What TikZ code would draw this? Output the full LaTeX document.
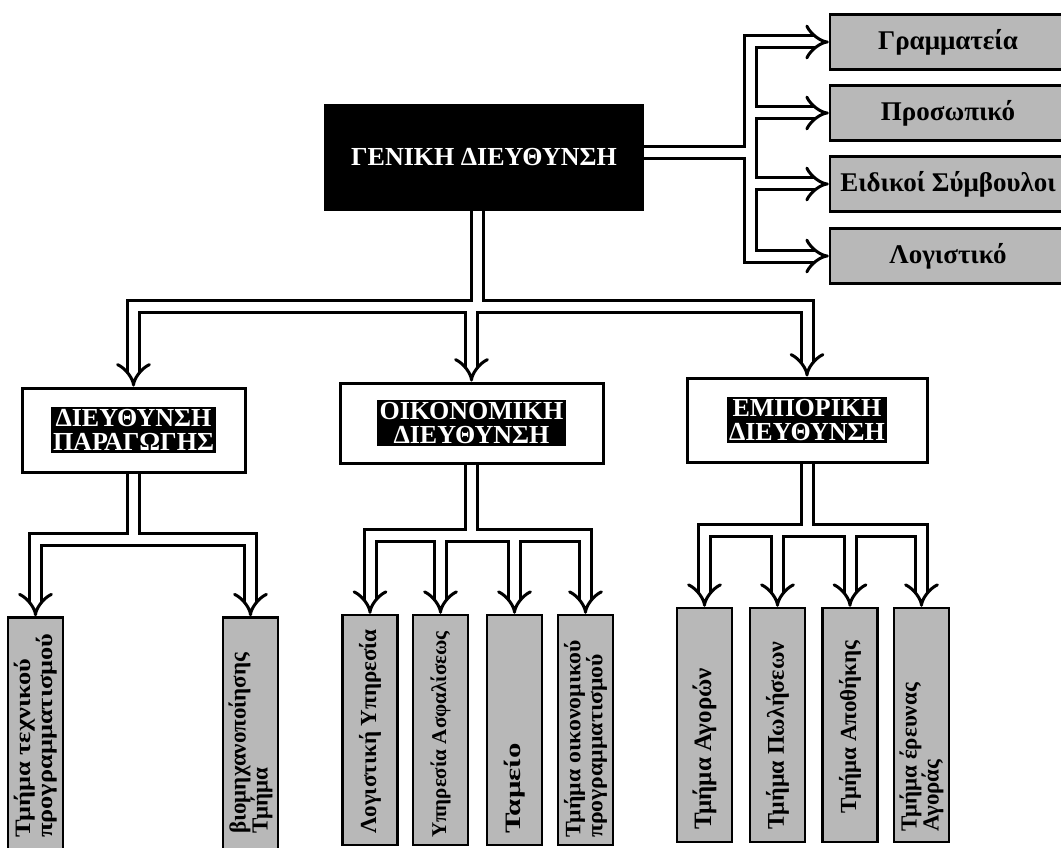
\documentclass[tikz,border=0pt]{standalone}
\usepackage{fontspec}
\setmainfont{Liberation Serif}
\usetikzlibrary{arrows.meta,calc}
\begin{document}
\begin{tikzpicture}[x=1pt,y=-1pt,
  conn/.style={draw=black, double=white, double distance=9pt, line width=3pt, line join=miter},
  tip/.style={conn, -{Implies}},
  headbox/.style={draw=black, fill=black, line width=2pt, text=white,
    font=\bfseries\fontsize{26}{28}\selectfont, minimum width=318pt, minimum height=105pt, inner sep=0pt},
  staffbox/.style={draw=black, fill=black!28, line width=2.5pt, minimum width=236pt,
    minimum height=55pt, font=\bfseries\fontsize{27}{27}\selectfont, inner sep=0pt},
  deptbox/.style={draw=black, fill=white, line width=3pt, inner sep=0pt},
  depttext/.style={fill=black, text=white, align=center,
    font=\bfseries\fontsize{26}{24}\selectfont, inner sep=2.5pt},
  unitbox/.style={draw=black, fill=black!28, line width=2.5pt, minimum width=55pt, inner sep=0pt},
  unittext/.style={rotate=90, anchor=west, align=left,
    font=\bfseries\fontsize{23}{22}\selectfont, inner sep=0pt},
  widetext/.style={unittext, font=\bfseries\fontsize{22}{22}\selectfont\addfontfeature{FakeStretch=#1}}
]
\useasboundingbox (0,0) rectangle (1061,848);

% general management and staff units
\node[headbox] (gd) at (484,157.5) {ΓΕΝΙΚΗ ΔΙΕΥΘΥΝΣΗ};
\node[staffbox] (r1) at (948,42) {Γραμματεία};
\node[staffbox] (r2) at (948,113) {Προσωπικό};
\node[staffbox] (r3) at (948,184) {Ειδικοί Σύμβουλοι};
\node[staffbox] (r4) at (948,256) {Λογιστικό};

% departments
\node[deptbox, minimum width=223pt, minimum height=84pt] (dp) at (133.5,430) {};
\node[depttext] (dpt) at (dp.center) {ΔΙΕΥΘΥΝΣΗ\\ΠΑΡΑΓΩΓΗΣ};
\node[deptbox, minimum width=263pt, minimum height=80pt] (od) at (471.5,423) {};
\node[depttext] (odt) at (od.center) {ΟΙΚΟΝΟΜΙΚΗ\\ΔΙΕΥΘΥΝΣΗ};
\node[deptbox, minimum width=240pt, minimum height=84pt] (ed) at (807,420) {};
\node[depttext] (edt) at (ed.center) {ΕΜΠΟΡΙΚΗ\\ΔΙΕΥΘΥΝΣΗ};

% sections
\node[unitbox, minimum height=245pt] (p1) at (35.5,740) {};
\node[unitbox, minimum height=245pt] (p2) at (250.5,740) {};
\node[unitbox, minimum height=230pt] (e1) at (370,730) {};
\node[unitbox, minimum height=230pt] (e2) at (440.5,730) {};
\node[unitbox, minimum height=230pt] (e3) at (514.5,730) {};
\node[unitbox, minimum height=230pt] (e4) at (585.5,730) {};
\node[unitbox, minimum height=234pt] (c1) at (704.5,725) {};
\node[unitbox, minimum height=234pt] (c2) at (777.5,725) {};
\node[unitbox, minimum height=234pt] (c3) at (850,725) {};
\node[unitbox, minimum height=234pt] (c4) at (921.5,725) {};

\node[widetext=1.2] (p1t) at (35.5,838) {Τμήμα τεχνικού\\προγραμματισμού};
\node[unittext] (p2t) at (250.5,834) {βιομηχανοποίησης\\Τμήμα};
\node[unittext] (e1t) at (370,834) {Λογιστική Υπηρεσία};
\node[unittext, font=\bfseries\fontsize{21}{21}\selectfont] (e2t) at (440.5,838) {Υπηρεσία Ασφαλίσεως};
\node[widetext=1.4] (e3t) at (514.5,834) {Ταμείο};
\node[widetext=1.08] (e4t) at (585.5,838) {Τμήμα οικονομικού\\προγραμματισμού};
\node[unittext, font=\bfseries\fontsize{25}{25}\selectfont] (c1t) at (704.5,830) {Τμήμα Αγορών};
\node[unittext, font=\bfseries\fontsize{24}{24}\selectfont] (c2t) at (777.5,830) {Τμήμα Πωλήσεων};
\node[unittext] (c3t) at (850,814) {Τμήμα Αποθήκης};
\node[unittext] (c4t) at (921.5,832) {Τμήμα έρευνας\\Αγοράς};

% bus levels and connector end points
\coordinate (sbus) at (750,0);
\coordinate (mbus) at (0,306);
\coordinate (pbus) at (0,539);
\coordinate (ebus) at (0,535);
\coordinate (cbus) at (0,530);
\coordinate (gde) at ($(gd.east)+(0,-5)$);
\coordinate (gds) at ($(gd.south)+(-7,0)$);

% staff connectors
\draw[conn] (gde) -- (gde -| sbus)
  ($(r1.west)+(-25,0)$) -- (r1.west -| sbus) -- (r4.west -| sbus) -- ($(r4.west)+(-25,0)$)
  (r2.west -| sbus) -- ($(r2.west)+(-25,0)$)
  (r3.west -| sbus) -- ($(r3.west)+(-25,0)$);
\foreach \n in {r1,r2,r3,r4}
  \draw[tip] ($(\n.west)+(-26,0)$) -- (\n.west);

% line connectors to the departments
\draw[conn] (gds) -- (gds |- mbus)
  ($(dp.north)+(0,-25)$) -- (dp.north |- mbus) -- (ed.north |- mbus) -- ($(ed.north)+(0,-25)$)
  (od.north |- mbus) -- ($(od.north)+(0,-25)$);
\foreach \n in {dp,od,ed}
  \draw[tip] ($(\n.north)+(0,-26)$) -- (\n.north);

% production sections
\draw[conn] (dp.south) -- (dp.south |- pbus)
  ($(p1.north)+(0,-25)$) -- (p1.north |- pbus) -- (p2.north |- pbus) -- ($(p2.north)+(0,-25)$);

% finance sections
\draw[conn] (od.south) -- (od.south |- ebus)
  ($(e1.north)+(0,-25)$) -- (e1.north |- ebus) -- (e4.north |- ebus) -- ($(e4.north)+(0,-25)$)
  (e2.north |- ebus) -- ($(e2.north)+(0,-25)$)
  (e3.north |- ebus) -- ($(e3.north)+(0,-25)$);

% commercial sections
\draw[conn] (ed.south) -- (ed.south |- cbus)
  ($(c1.north)+(0,-25)$) -- (c1.north |- cbus) -- (c4.north |- cbus) -- ($(c4.north)+(0,-25)$)
  (c2.north |- cbus) -- ($(c2.north)+(0,-25)$)
  (c3.north |- cbus) -- ($(c3.north)+(0,-25)$);

\foreach \n in {p1,p2,e1,e2,e3,e4,c1,c2,c3,c4}
  \draw[tip] ($(\n.north)+(0,-26)$) -- (\n.north);
\end{tikzpicture}
\end{document}
